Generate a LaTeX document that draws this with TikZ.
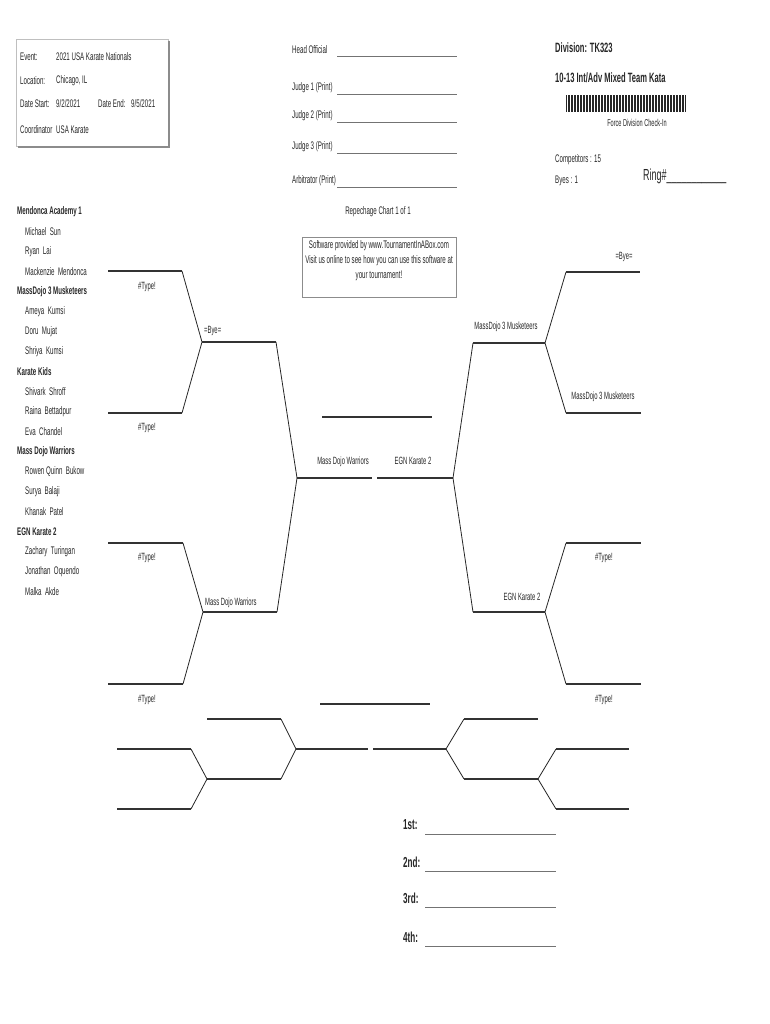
\documentclass[tikz,border=0pt]{standalone}
\usepackage{fontspec}
\setmainfont[FakeStretch=0.56]{Liberation Sans}

\begin{document}
\begin{tikzpicture}[x=1pt, y=-1pt,
    txt/.style={font=\fontsize{11}{13}\selectfont, inner sep=0pt, text=black!85},
    info/.style={txt, anchor=west},
    team/.style={info, font=\fontsize{11}{13}\selectfont\bfseries, xshift=17pt},
    member/.style={info, xshift=25pt},
    tag/.style={txt, font=\fontsize{10.5}{12}\selectfont},
    head/.style={info, font=\fontsize{13.5}{15}\selectfont\bfseries},
    place/.style={info, font=\fontsize{14.5}{16}\selectfont\bfseries},
    slot/.style={line width=1.6pt, black!80},
    link/.style={line width=0.8pt, black!85},
    blank/.style={line width=0.6pt, black!55}
]
    \useasboundingbox (0,0) rectangle (770,1024);

    % Event box
    \draw[black!25, line width=0.5pt] (16,39) rectangle (168,146);
    \draw[black!45, line width=1.5pt] (18,147) -- (169,147) -- (169,41);
    \node[info] (event) at (20,57) {Event:};
    \node[info] (eventval) at (56,57) {2021 USA Karate Nationals};
    \node[info] (loc) at (20,81) {Location:};
    \node[info] (locval) at (56,81) {Chicago, IL};
    \node[info] (start) at (20,104) {Date Start:};
    \node[info] (startval) at (56,104) {9/2/2021};
    \node[info] (end) at (98,104) {Date End:};
    \node[info] (endval) at (131,104) {9/5/2021};
    \node[info] (coord) at (20,130) {Coordinator};
    \node[info] (coordval) at (56,130) {USA Karate};

    % Officials
    \foreach \role/\y [count=\i] in {Head Official/50, Judge 1 (Print)/88, Judge 2 (Print)/116, Judge 3 (Print)/147, Arbitrator (Print)/181} {
        \node[info] (off\i) at (292,\y) {\role};
        \draw[blank] (337,{\y+6}) -- (457,{\y+6});
    }

    % Division
    \node[head] (div) at (555,48) {Division: TK323};
    \node[head] (divname) at (555,78) {10-13 Int/Adv Mixed Team Kata};
    \foreach \i in {0,...,79} {
        \pgfmathsetmacro\bw{0.45+0.4*mod(\i*\i+3*\i,3)}
        \fill[black!85] ({566+1.5*\i},95) rectangle ++(\bw,17);
    }
    \node[tag, font=\fontsize{10}{12}\selectfont] (checkin) at (637,123) {Force Division Check-In};
    \node[info] (comp) at (555,160) {Competitors : 15};
    \node[info] (byes) at (555,181) {Byes : 1};
    \node[info, font=\fontsize{16}{18}\selectfont] (ring) at (643,176) {Ring\#\_\_\_\_\_\_\_\_\_\_\_\_};

    % Teams and members
    \foreach \kind/\name [count=\i from 0] in {team/Mendonca Academy 1, member/Michael\ \ Sun, member/Ryan\ \ Lai, member/Mackenzie\ \ Mendonca,
        team/MassDojo 3 Musketeers, member/Ameya\ \ Kumsi, member/Doru\ \ Mujat, member/Shriya\ \ Kumsi,
        team/Karate Kids, member/Shivark\ \ Shroff, member/Raina\ \ Bettadpur, member/Eva\ \ Chandel,
        team/Mass Dojo Warriors, member/Rowen Quinn\ \ Bukow, member/Surya\ \ Balaji, member/Khanak\ \ Patel,
        team/EGN Karate 2, member/Zachary\ \ Turingan, member/Jonathan\ \ Oquendo, member/Malka\ \ Akde}
        \node[\kind] (row\i) at (0,{212+20*\i}) {\name};

    % Chart title and notice
    \node[txt] (chart) at (378,212) {Repechage Chart 1 of 1};
    \draw[black!45, line width=0.5pt] (302,237) rectangle (456,297);
    \node[txt, align=center] (ad) at (379,261) {Software provided by www.TournamentInABox.com\\[2pt]Visit us online to see how you can use this software at\\[2pt]your tournament!};

    % Left bracket, upper half
    \draw[slot] (108,271) -- (182,271);
    \draw[slot] (108,413) -- (182,413);
    \draw[link] (182,271) -- (202,342) -- (182,413);
    \draw[slot] (202,342) -- (276,342);
    \draw[link] (276,342) -- (297,478);
    \node[tag] (t1) at (147,287) {\#Type!};
    \node[tag] (t2) at (147,428) {\#Type!};
    \node[tag, anchor=west] (bye1) at (204,331) {=Bye=};

    % Left bracket, lower half
    \draw[slot] (108,543) -- (183,543);
    \draw[slot] (108,684) -- (183,684);
    \draw[link] (183,543) -- (203,612) -- (183,684);
    \draw[slot] (203,612) -- (277,612);
    \draw[link] (277,612) -- (297,478);
    \node[tag] (t3) at (147,558) {\#Type!};
    \node[tag] (t4) at (147,700) {\#Type!};
    \node[tag, anchor=west] (w1) at (205,603) {Mass Dojo Warriors};

    % Final
    \draw[slot] (297,478) -- (372,478);
    \draw[slot] (377,478) -- (453,478);
    \draw[slot] (322,417) -- (432,417);
    \node[tag] (w2) at (343,462) {Mass Dojo Warriors};
    \node[tag] (e1) at (413,461) {EGN Karate 2};

    % Right bracket, upper half
    \draw[link] (453,478) -- (473,343);
    \draw[slot] (473,343) -- (545,343);
    \draw[link] (566,272) -- (545,343) -- (566,413);
    \draw[slot] (566,272) -- (640,272);
    \draw[slot] (566,413) -- (641,413);
    \node[tag] (m1) at (506,327) {MassDojo 3 Musketeers};
    \node[tag] (bye2) at (624,257) {=Bye=};
    \node[tag] (m2) at (603,397) {MassDojo 3 Musketeers};

    % Right bracket, lower half
    \draw[link] (473,612) -- (453,478);
    \draw[slot] (473,612) -- (545,612);
    \draw[link] (566,543) -- (545,612) -- (566,684);
    \draw[slot] (566,543) -- (641,543);
    \draw[slot] (566,684) -- (641,684);
    \node[tag] (e2) at (522,597) {EGN Karate 2};
    \node[tag] (t5) at (604,558) {\#Type!};
    \node[tag] (t6) at (604,700) {\#Type!};

    % Repechage
    \draw[slot] (320,704) -- (430,704);
    \draw[slot] (207,719) -- (281,719);
    \draw[slot] (207,779) -- (281,779);
    \draw[link] (281,719) -- (296,749) -- (281,779);
    \draw[slot] (296,749) -- (368,749);
    \draw[slot] (117,749) -- (191,749);
    \draw[slot] (117,809) -- (191,809);
    \draw[link] (191,749) -- (207,779) -- (191,809);
    \draw[slot] (373,749) -- (446,749);
    \draw[link] (464,719) -- (446,749) -- (464,779);
    \draw[slot] (464,719) -- (538,719);
    \draw[slot] (464,779) -- (538,779);
    \draw[link] (556,749) -- (538,779) -- (556,809);
    \draw[slot] (556,749) -- (629,749);
    \draw[slot] (556,809) -- (629,809);

    % Placings
    \foreach \rank/\y [count=\i] in {1st:/825, 2nd:/862, 3rd:/898, 4th:/937} {
        \node[place] (rank\i) at (403,\y) {\rank};
        \draw[blank] (425,{\y+9}) -- (556,{\y+9});
    }

\end{tikzpicture}
\end{document}
